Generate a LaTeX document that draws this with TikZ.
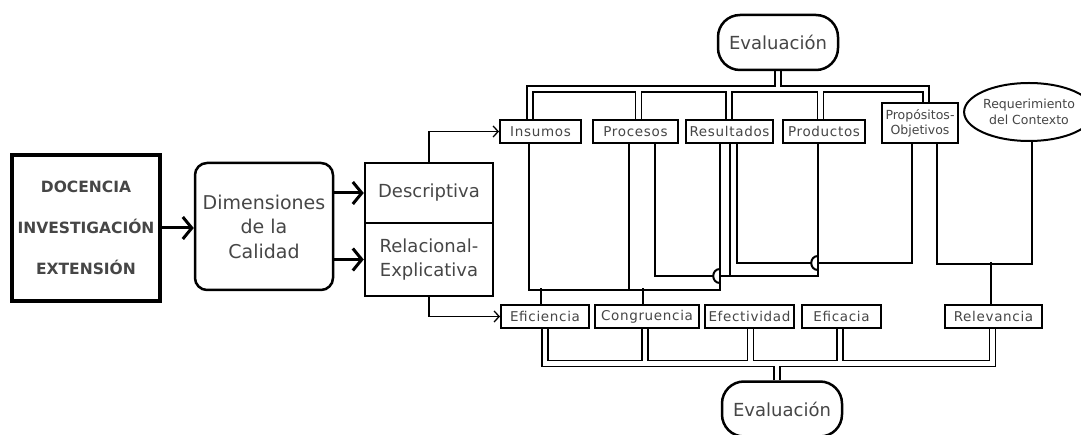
\documentclass[tikz,border=0pt]{standalone}
\usepackage{fontspec}
\setmainfont{DejaVu Sans}
\newfontfamily\boxfont[LetterSpace=5]{DejaVu Sans}
\usetikzlibrary{arrows.meta,positioning,shapes.geometric,backgrounds}
\definecolor{txtgray}{RGB}{70,70,70}

\begin{document}
\begin{tikzpicture}[x=1pt,y=-1pt,
  box/.style={draw,fill=white,line width=2pt,inner sep=0pt,align=center,text=txtgray},
  sbox/.style={box,minimum height=23pt,font=\boxfont\fontsize{13.5}{16}\selectfont},
  evalbox/.style={box,rounded corners=22pt,minimum width=120pt,minimum height=55pt,line width=2.5pt,font=\fontsize{18}{20}\selectfont},
  bus/.style={double,double distance=4.5pt,line width=1.4pt},
  link/.style={line width=2pt},
  bigarr/.style={line width=3pt,-{Straight Barb[length=9pt,width=22pt]}},
  thinarr/.style={line width=1.3pt,-{Straight Barb[length=5pt,width=11pt]}}]
\useasboundingbox (0,0) rectangle (1081,435);
% left part
\node[box,line width=3.5pt,minimum width=148pt,minimum height=146pt,font=\fontsize{15.5}{41}\selectfont\bfseries] (ejes) at (86,228) {DOCENCIA\\INVESTIGACIÓN\\EXTENSIÓN};
\node[box,rounded corners=12pt,line width=2.5pt,minimum width=138pt,minimum height=127pt,font=\fontsize{19}{24.5}\selectfont] (dim) at (264,226.5) {Dimensiones\\de la\\Calidad};
\node[box,line width=2.5pt,minimum width=128pt,minimum height=60pt,font=\fontsize{18}{24}\selectfont] (desc) at (429,193) {Descriptiva};
\node[box,line width=2.5pt,minimum width=128pt,minimum height=73pt,font=\fontsize{18}{24}\selectfont] (relac) at (429,259.5) {Relacional-\\Explicativa};
% upper row
\node[sbox,minimum width=81pt] (insumos) at (540.5,131.5) {Insumos};
\node[sbox,minimum width=85pt] (procesos) at (635.5,131.5) {Procesos};
\node[sbox,minimum width=87pt] (resultados) at (729.5,131.5) {Resultados};
\node[sbox,minimum width=82pt] (productos) at (824,131.5) {Productos};
\node[sbox,minimum width=76pt,minimum height=40pt,font=\fontsize{12.5}{15}\selectfont] (propositos) at (920,123) {Propósitos-\\Objetivos};
\node[box,ellipse,minimum width=124pt,minimum height=58pt,font=\fontsize{12.5}{16.5}\selectfont] (contexto) at (1029,112) {Requerimiento\\del Contexto};
% lower row
\node[sbox,minimum width=88pt] (eficiencia) at (545,316.5) {Eficiencia};
\node[sbox,minimum width=104pt] (congruencia) at (647,316.5) {Congruencia};
\node[sbox,minimum width=89pt] (efectividad) at (749.5,316.5) {Efectividad};
\node[sbox,minimum width=79pt] (eficacia) at (841.5,316.5) {Eficacia};
\node[sbox,minimum width=97pt] (relevancia) at (993.5,316.5) {Relevancia};
% evaluation
\node[evalbox] (evalsup) at (778,42.5) {Evaluación};
\node[evalbox] (evalinf) at (782,409) {Evaluación};
% arrows
\draw[bigarr] (ejes.east) -- (dim.west |- ejes.east);
\draw[bigarr] (dim.east |- desc.west) -- (desc.west);
\draw[bigarr] (dim.east |- relac.west) -- (relac.west);
\draw[thinarr] (desc.north) |- (insumos.west);
\draw[thinarr] (relac.south) |- (eficiencia.west);
% double rails
\begin{scope}[on background layer]
\draw[bus] ([xshift=-10.5pt]insumos.north) -- ++(0,-30) -| ([xshift=6pt]propositos.north)
  ([xshift=3pt]procesos.north) -- ++(0,-30)
  ([xshift=-0.5pt]resultados.north) -- ++(0,-30)
  ([xshift=-3.5pt]productos.north) -- ++(0,-30)
  (evalsup.south) -- ++(0,20);
\draw[bus] (eficiencia.south) -- ++(0,34.5) -| ([xshift=-1pt]relevancia.south)
  ([xshift=-2pt]congruencia.south) -- ++(0,34.5)
  ([xshift=1pt]efectividad.south) -- ++(0,34.5)
  ([xshift=-1.5pt]eficacia.south) -- ++(0,34.5)
  ([xshift=-5pt]evalinf.north) -- ++(0,-19.5);
\end{scope}
% links between rows
\draw[link] ([xshift=-11.5pt]insumos.south) -- ++(0,146) -| ([xshift=-9.5pt]resultados.south);
\draw[link] ([xshift=-6.5pt]procesos.south) -- ++(0,146);
\draw[link] ([xshift=-4pt]eficiencia.north) -- ++(0,-16);
\draw[link] ([xshift=-4pt]congruencia.north) -- ++(0,-16);
\path ([xshift=-9.5pt]resultados.south) ++(0,132) coordinate (hopA);
\draw[link] ([xshift=19.5pt]procesos.south) |- ([xshift=-7pt]hopA);
\draw[link] ([yshift=7pt]hopA) .. controls +(-9,0) and +(-9,0) .. ([yshift=-7pt]hopA);
\draw[link] (hopA) -| ([xshift=-6pt]productos.south);
\draw[link] ([xshift=0.5pt]resultados.south) -- ++(0,132);
\path ([xshift=-6pt]productos.south) ++(0,119) coordinate (hopB);
\draw[link] ([xshift=7.5pt]resultados.south) |- ([xshift=-7pt]hopB);
\draw[link] ([yshift=7pt]hopB) .. controls +(-9,0) and +(-9,0) .. ([yshift=-7pt]hopB);
\draw[link] (hopB) -| ([xshift=-8pt]propositos.south);
\draw[link] ([xshift=17pt]propositos.south) -- ++(0,120) -| ([xshift=3pt]contexto.south);
\draw[link] ([xshift=-2.5pt]relevancia.north) -- ++(0,-42);
\end{tikzpicture}
\end{document}
